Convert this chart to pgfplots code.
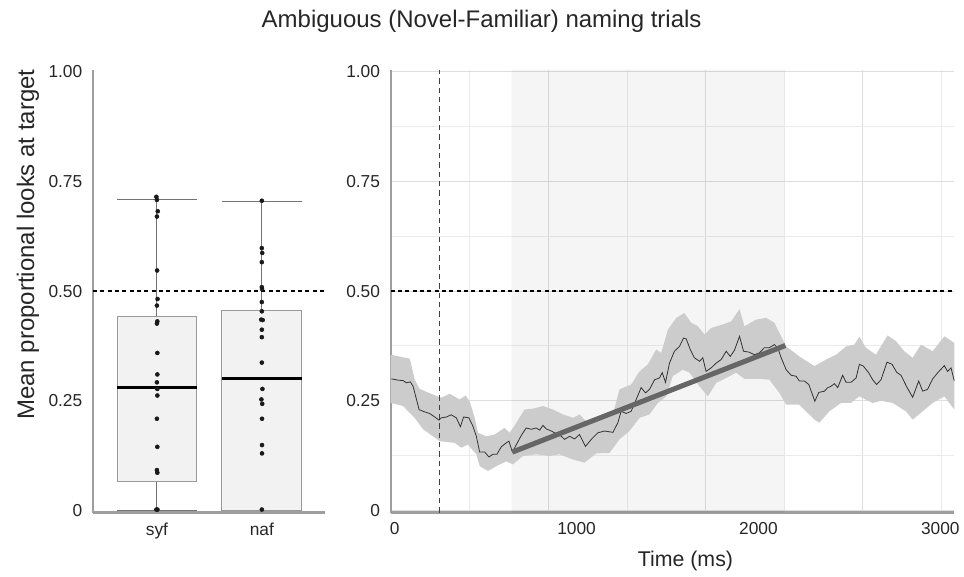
\documentclass[border=0pt]{standalone}
\usepackage{fontspec}
\setmainfont{Liberation Sans}
\usepackage{pgfplots}
\pgfplotsset{compat=1.18}
\usepgfplotslibrary{statistics}

\begin{document}
\begin{tikzpicture}
\pgfplotsset{
  common/.style={
    scale only axis,
    ymin=-0.005, ymax=1.005,
    ytick={0,0.25,0.5,0.75,1},
    yticklabels={0,0.25,0.50,0.75,1.00},
    axis x line*=bottom, axis y line*=left,
    axis line style={-, draw=black!38, line width=1.8pt},
    major tick length=0pt, minor tick length=0pt,
    tick label style={font=\fontsize{13}{15}\selectfont, text=black!85},
    yticklabel style={xshift=-4.5pt},
    xticklabel style={yshift=-4pt},
    label style={font=\fontsize{16}{19}\selectfont, text=black!85},
  }
}
% ---------------- left: boxplots ----------------
\begin{axis}[common, width=174pt, height=332.5pt,
  xmin=-0.61, xmax=1.6, xtick={0,1}, xticklabels={syf,naf},
  ylabel={Mean proportional looks at target},
  ylabel style={at={(axis description cs:-0.28,0.605)}, anchor=center, font=\fontsize{18}{20}\selectfont},
  boxplot/draw direction=y,
  boxplot/every box/.style={draw=black!40, fill=black!5, line width=0.7pt},
  boxplot/every whisker/.style={draw=black!55, line width=0.7pt},
  boxplot/every median/.style={draw=black, line width=2.2pt},
]
\addplot[boxplot prepared={draw position=0, lower whisker=0, lower quartile=0.065,
  median=0.28, upper quartile=0.443, upper whisker=0.71, box extend=0.76, whisker extend=0.76}]
  coordinates {};
\addplot[boxplot prepared={draw position=1, lower whisker=0, lower quartile=0.0,
  median=0.30, upper quartile=0.455, upper whisker=0.705, box extend=0.76, whisker extend=0.76}]
  coordinates {};
\addplot[black, line width=1.1pt, dash pattern=on 3pt off 2.5pt] coordinates {(-0.61,0.5)(1.6,0.5)};
\addplot[only marks, mark=*, mark size=1.5pt, black!90] coordinates {
(-0.005,0.715)(0.000,0.708)(0.008,0.682)(0.000,0.670)(0.002,0.547)(0.006,0.482)(0.000,0.467)
(0.004,0.431)(0.000,0.426)(0.004,0.359)(0.004,0.310)(0.000,0.292)(0.004,0.277)(0.004,0.262)
(0.000,0.209)(0.004,0.145)(0.000,0.092)(0.004,0.086)(-0.005,0.002)(0.005,0.002)};
\addplot[only marks, mark=*, mark size=1.5pt, black!90] coordinates {
(1.000,0.706)(1.000,0.598)(1.004,0.587)(1.000,0.566)(1.000,0.509)(1.002,0.505)(1.000,0.475)
(1.000,0.454)(0.994,0.435)(1.008,0.434)(1.000,0.412)(1.000,0.395)(1.000,0.337)(1.006,0.277)
(0.996,0.253)(1.004,0.243)(1.002,0.209)(1.002,0.149)(1.002,0.130)(1.000,0.002)};
\end{axis}
% ---------------- right: time course ----------------
\begin{axis}[common, at={(223.5pt,0pt)}, width=423pt, height=332.5pt,
  xmin=-22, xmax=3077,
  xtick={846,1709,2571}, xticklabels={,,}, minor xtick={412,1280,2143,3005},
  minor ytick={0.125,0.375,0.625,0.875},
  xmajorgrids, xminorgrids, ymajorgrids, yminorgrids,
  major grid style={draw=black!13, line width=0.7pt},
  minor grid style={draw=black!8, line width=0.7pt},
  extra x ticks={0,1000,2000,3000}, extra x tick labels={0,1000,2000,3000},
  extra x tick style={xmajorgrids=false, xminorgrids=false},
  xlabel={Time (ms)},
  xlabel style={at={(axis description cs:0.523,-0.11)}, anchor=center},
]
\addplot[fill=black, fill opacity=0.04, draw=none]
  coordinates {(643,-0.005)(643,1.005)(2143,1.005)(2143,-0.005)(643,-0.005)};
\addplot[fill=black!20, draw=none] coordinates {
(-22,0.355)(83,0.346)(110,0.298)(137,0.277)(211,0.264)(256,0.257)(302,0.266)(357,0.253)(390,0.262)
(412,0.249)(440,0.211)(458,0.177)(504,0.169)(549,0.173)(604,0.188)(632,0.177)(669,0.200)(714,0.230)
(760,0.232)(815,0.238)(870,0.230)(925,0.219)(980,0.211)(1016,0.219)(1053,0.203)(1126,0.215)(1200,0.219)
(1236,0.276)(1300,0.287)(1346,0.317)(1392,0.333)(1438,0.367)(1465,0.359)(1502,0.412)(1548,0.439)
(1593,0.450)(1630,0.428)(1667,0.420)(1703,0.401)(1740,0.416)(1804,0.424)(1850,0.431)(1896,0.459)
(1923,0.420)(1987,0.435)(2042,0.439)(2088,0.428)(2106,0.412)(2125,0.397)(2152,0.374)(2225,0.351)
(2308,0.329)(2372,0.344)(2427,0.355)(2482,0.374)(2527,0.378)(2555,0.396)(2591,0.371)(2646,0.355)
(2710,0.399)(2756,0.386)(2802,0.363)(2848,0.348)(2894,0.378)(2958,0.363)(3022,0.397)(3077,0.382)
(3077,0.230)(3022,0.260)(2958,0.245)(2903,0.226)(2848,0.207)(2811,0.226)(2738,0.245)(2674,0.250)
(2628,0.245)(2555,0.260)(2509,0.245)(2454,0.245)(2390,0.226)(2335,0.200)(2308,0.207)(2225,0.241)
(2152,0.241)(2115,0.268)(2060,0.298)(2005,0.300)(1969,0.300)(1923,0.300)(1877,0.314)(1823,0.302)
(1768,0.291)(1722,0.260)(1676,0.283)(1621,0.314)(1584,0.321)(1529,0.306)(1493,0.260)(1447,0.245)
(1401,0.219)(1346,0.211)(1291,0.181)(1236,0.162)(1181,0.131)(1108,0.130)(1044,0.109)(980,0.116)
(907,0.128)(852,0.124)(778,0.128)(705,0.124)(650,0.105)(614,0.112)(559,0.101)(513,0.090)(467,0.101)
(449,0.128)(403,0.150)(366,0.143)(330,0.154)(247,0.158)(156,0.185)(110,0.211)(46,0.238)(-22,0.245)};
\addplot[black!75, line width=0.7pt, dash pattern=on 4pt off 3pt] coordinates {(247,-0.005)(247,1.005)};
\addplot[black, line width=1.1pt, dash pattern=on 3pt off 2.5pt] coordinates {(-22,0.5)(3077,0.5)};
\addplot[black!80, line width=0.6pt] coordinates {
(-18,0.300)(18,0.297)(46,0.296)(64,0.291)(86,0.293)(101,0.283)(134,0.230)(156,0.226)(192,0.221)
(220,0.213)(243,0.206)(256,0.211)(284,0.213)(311,0.218)(339,0.211)(361,0.191)(379,0.213)(408,0.211)
(430,0.192)(449,0.169)(467,0.133)(495,0.133)(518,0.122)(540,0.128)(562,0.128)(586,0.145)(610,0.153)
(628,0.158)(647,0.133)(669,0.150)(696,0.171)(723,0.188)(751,0.185)(778,0.188)(797,0.183)(815,0.194)
(833,0.186)(861,0.181)(888,0.175)(916,0.169)(934,0.162)(962,0.169)(989,0.163)(1016,0.173)(1049,0.146)
(1081,0.162)(1117,0.177)(1154,0.181)(1200,0.178)(1227,0.200)(1245,0.226)(1273,0.221)(1300,0.226)
(1328,0.253)(1355,0.280)(1379,0.268)(1401,0.276)(1429,0.298)(1456,0.302)(1471,0.314)(1489,0.292)
(1511,0.336)(1538,0.363)(1566,0.374)(1588,0.393)(1603,0.391)(1625,0.367)(1648,0.348)(1676,0.340)
(1694,0.348)(1712,0.317)(1740,0.325)(1768,0.336)(1795,0.344)(1823,0.363)(1845,0.351)(1868,0.365)
(1896,0.397)(1918,0.363)(1947,0.361)(1978,0.355)(2005,0.359)(2033,0.371)(2060,0.371)(2088,0.378)
(2106,0.371)(2125,0.348)(2152,0.321)(2180,0.308)(2207,0.306)(2225,0.295)(2253,0.295)(2277,0.287)
(2310,0.249)(2332,0.269)(2363,0.272)(2381,0.280)(2399,0.283)(2418,0.289)(2436,0.280)(2463,0.308)
(2482,0.292)(2509,0.292)(2537,0.302)(2555,0.333)(2577,0.329)(2606,0.314)(2628,0.298)(2650,0.287)
(2674,0.298)(2707,0.338)(2735,0.333)(2760,0.315)(2784,0.308)(2815,0.282)(2848,0.258)(2881,0.295)
(2903,0.272)(2930,0.276)(2958,0.300)(2986,0.314)(3022,0.330)(3040,0.317)(3059,0.325)(3077,0.295)};
\addplot[black!60, line width=3.8pt] coordinates {(647,0.133)(2148,0.376)};
\end{axis}
\node[font=\fontsize{18}{21}\selectfont, text=black!85] at (291.75pt,368.5pt)
  {Ambiguous (Novel-Familiar) naming trials};
\path[use as bounding box] (-69.75pt,-48pt) rectangle (653.25pt,384.75pt);
\end{tikzpicture}
\end{document}
